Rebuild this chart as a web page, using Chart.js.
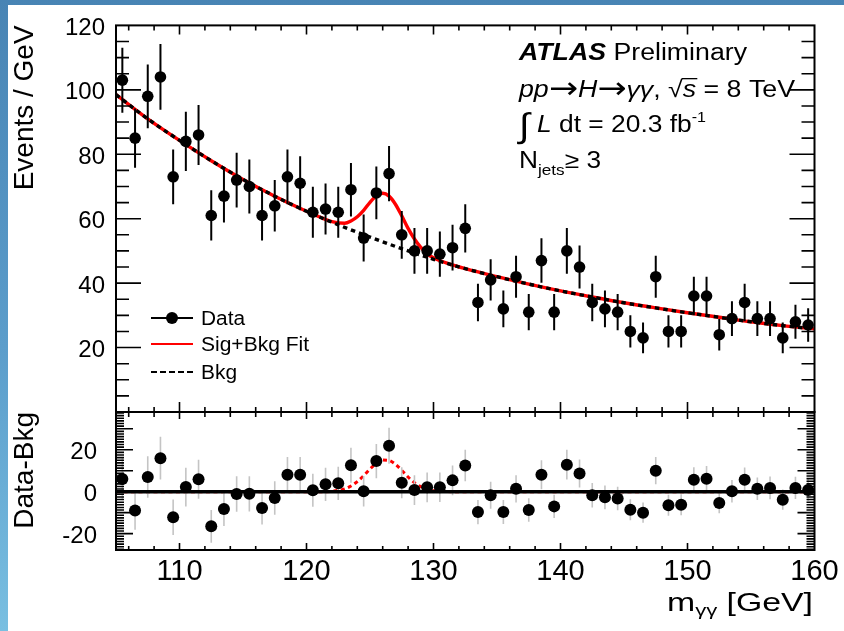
<!DOCTYPE html>
<html>
<head>
<meta charset="utf-8">
<title>H→γγ, Njets ≥ 3</title>
<script src="https://cdn.jsdelivr.net/npm/chart.js@4.4.1/dist/chart.umd.min.js"></script>
<style>
  html, body { margin: 0; padding: 0; }
  #page {
    position: relative; width: 844px; height: 631px; overflow: hidden;
    background: linear-gradient(180deg, #4884b4 0%, #5b9dcb 55%, #79bfe1 100%);
  }
  #sheet { position: absolute; left: 8px; top: 5px; right: 0; bottom: 0; background: #fff; }
  canvas { position: absolute; left: 0; top: 0; }
</style>
</head>
<body>
<div id="page">
  <div id="sheet"></div>
  <canvas id="ratio" width="844" height="631"></canvas>
  <canvas id="spectrum" width="844" height="631"></canvas>
</div>
<script>
// --- data: diphoton mass spectrum, 1 GeV bins ---
const binCenters = [
  105.5, 106.5, 107.5, 108.5, 109.5, 110.5, 111.5, 112.5, 113.5, 114.5,
  115.5, 116.5, 117.5, 118.5, 119.5, 120.5, 121.5, 122.5, 123.5, 124.5,
  125.5, 126.5, 127.5, 128.5, 129.5, 130.5, 131.5, 132.5, 133.5, 134.5,
  135.5, 136.5, 137.5, 138.5, 139.5, 140.5, 141.5, 142.5, 143.5, 144.5,
  145.5, 146.5, 147.5, 148.5, 149.5, 150.5, 151.5, 152.5, 153.5, 154.5,
  155.5, 156.5, 157.5, 158.5, 159.5
]
const eventCounts = [
  103, 85, 98, 104, 73, 84, 86, 61, 67, 72,
  70, 61, 64, 73, 71, 62, 63, 62, 69, 54,
  68, 74, 55, 50, 50, 49, 51, 57, 34, 41,
  32, 42, 31, 47, 31, 50, 45, 34, 32, 31,
  25, 23, 42, 25, 25, 36, 36, 24, 29, 34,
  29, 29, 23, 28, 27
]
const countErrors = [
  10.1, 9.2, 9.9, 10.2, 8.5, 9.2, 9.3, 7.8, 8.2, 8.5,
  8.4, 7.8, 8.0, 8.5, 8.4, 7.9, 7.9, 7.9, 8.3, 7.3,
  8.2, 8.6, 7.4, 7.1, 7.1, 7.0, 7.1, 7.5, 5.8, 6.4,
  5.7, 6.5, 5.6, 6.9, 5.6, 7.1, 6.7, 5.8, 5.7, 5.6,
  5.0, 4.8, 6.5, 5.0, 5.0, 6.0, 6.0, 4.9, 5.4, 5.8,
  5.4, 5.4, 4.8, 5.3, 5.2
]
// data minus background fit
const residuals = [
  6.0, -9.0, 7.0, 16.0, -12.2, 2.2, 5.9, -16.5, -8.2, -1.1,
  -1.0, -7.8, -3.0, 8.1, 8.1, 0.7, 3.5, 4.0, 12.6, 0.2,
  14.6, 21.9, 4.3, 0.8, 2.1, 2.1, 5.4, 12.5, -9.7, -1.7,
  -9.7, 1.4, -8.7, 8.1, -7.0, 12.9, 8.7, -1.7, -2.7, -3.2,
  -8.6, -10.0, 10.0, -6.5, -6.2, 5.7, 6.2, -5.4, 0.2, 5.7,
  1.4, 1.8, -3.8, 1.8, 0.8
]

// background-only fit
const bkgMass = [105, 107.5, 110, 112.5, 115, 117.5, 120, 122.5, 125, 127.5, 130, 132.5,
  135, 137.5, 140, 142.5, 145, 147.5, 150, 152.5, 155, 157.5, 160]
const bkgFit = [98.5, 91.0, 84.3, 78.0, 72.2, 67.0, 62.3, 58.1, 54.3, 50.7, 47.4, 44.5,
  42.0, 39.7, 37.6, 35.7, 33.9, 32.3, 30.8, 29.4, 28.0, 26.8, 25.8]

// signal + background fit
const sigBkgMass = [105, 107.5, 110, 112.5, 115, 117.5, 120, 121, 122, 123, 123.5, 124,
  124.5, 125, 125.5, 126, 126.5, 127, 127.5, 128, 128.5, 129, 129.5, 130, 131, 132.5,
  135, 137.5, 140, 142.5, 145, 147.5, 150, 152.5, 155, 157.5, 160]
const sigBkgFit = [98.5, 91.0, 84.3, 78.0, 72.2, 67.0, 62.3, 60.6, 59.1, 58.6, 59.3, 60.6,
  62.6, 65.1, 67.1, 67.9, 67.0, 64.5, 60.9, 57.0, 53.7, 51.1, 49.1, 47.9, 46.3, 44.5,
  42.0, 39.7, 37.6, 35.7, 33.9, 32.3, 30.8, 29.4, 28.0, 26.8, 25.8]

// signal component alone (lower panel)
const sigMass = [105, 120, 121, 122, 123, 123.5, 124, 124.5, 125, 125.5, 126, 126.5,
  127, 127.5, 128, 128.5, 129, 129.5, 130, 131, 132, 160]
const sigOnly = [0, 0, 0, 0.2, 1.3, 2.7, 4.8, 7.6, 10.8, 13.5, 15.1, 14.9,
  13.1, 10.2, 7.0, 4.3, 2.4, 1.1, 0.5, 0.1, 0, 0]

// background in the residual panel is flat at zero
const flatMass = [105, 160]
const flatZero = [0, 0]

// axes
const massRange = [105, 160]
const massTicks = [110, 120, 130, 140, 150, 160]
const eventsRange = [0, 120]
const eventsTicks = [20, 40, 60, 80, 100, 120]
const residRange = [-27.8, 38]
const residTicks = [-20, 0, 20]

// --- helpers ---
const FONT = '"Liberation Sans", Arial, Helvetica, sans-serif'
Chart.defaults.font.family = FONT
Chart.defaults.color = '#000'

const pts = (xs, ys) => xs.map((x, i) => ({ x, y: ys[i] }))
const bars = (xs, ys, es) => xs.map((x, i) => ({ x, y: [ys[i] - es[i], ys[i] + es[i]] }))
const rg = s => `${s}px ${FONT}`
const it = s => `italic ${s}px ${FONT}`
const arrow = { text: '→', font: '30px "DejaVu Sans", sans-serif', dy: 1 }

// draws a row of text pieces (sub/superscripts, mixed fonts), stretched to a given width
function drawRuns(ctx, x, y, runs, width) {
  let natural = 0
  for (const r of runs) { ctx.font = r.font; natural += ctx.measureText(r.text).width }
  const sx = width ? width / natural : 1
  ctx.save()
  ctx.translate(x, y)
  ctx.scale(sx, 1)
  ctx.textAlign = 'left'
  ctx.textBaseline = 'alphabetic'
  ctx.fillStyle = '#000'
  let cx = 0
  for (const r of runs) {
    ctx.font = r.font
    const w = ctx.measureText(r.text).width
    ctx.fillText(r.text, cx, r.dy || 0)
    if (r.overbar) ctx.fillRect(cx - 1, -r.overbar, w + 2, 1.3)
    cx += w
  }
  ctx.restore()
}

// ROOT-style frame with inward ticks on all four sides
const frameTicks = {
  id: 'frameTicks',
  afterDatasetsDraw(chart, args, o) {
    const { ctx, chartArea: a } = chart
    const x = chart.scales.x
    const y = chart.scales.y
    ctx.save()
    ctx.strokeStyle = '#000'
    ctx.lineWidth = 1.6
    ctx.beginPath()
    for (let v = 106; v < 160; v += 2) {
      const px = x.getPixelForValue(v)
      const major = v % 10 === 0
      const t = major ? o.xTop[0] : o.xTop[1]
      const b = major ? o.xBottom[0] : o.xBottom[1]
      ctx.moveTo(px, a.top); ctx.lineTo(px, a.top + t)
      ctx.moveTo(px, a.bottom); ctx.lineTo(px, a.bottom - b)
    }
    const n = Math.round((y.max - o.yStart) / o.yMinor)
    for (let i = 0; i <= n; i++) {
      const v = o.yStart + i * o.yMinor
      if (v <= y.min || v >= y.max) continue
      const py = y.getPixelForValue(v)
      const major = Math.abs(v / o.yMajor - Math.round(v / o.yMajor)) < 1e-6
      const len = major ? o.yLen[0] : o.yLen[1]
      ctx.moveTo(a.left, py); ctx.lineTo(a.left + len, py)
      ctx.moveTo(a.right, py); ctx.lineTo(a.right - len, py)
    }
    ctx.stroke()
    ctx.lineWidth = 2
    ctx.strokeRect(a.left, a.top, a.right - a.left, a.bottom - a.top)
    ctx.restore()
  }
}

// labels and legend of the upper panel
const spectrumText = {
  id: 'spectrumText',
  afterDraw(chart) {
    const ctx = chart.ctx
    drawRuns(ctx, 519, 60, [
      { text: 'ATLAS', font: `italic bold 23px ${FONT}` },
      { text: ' Preliminary', font: rg(23) }
    ], 228)
    drawRuns(ctx, 519, 97, [
      { text: 'pp', font: it(23) },
      arrow,
      { text: 'H', font: it(23) },
      arrow,
      { text: 'γγ', font: it(23) },
      { text: ', ', font: rg(23) },
      { text: '√', font: rg(23) },
      { text: 's', font: it(23), overbar: 19 },
      { text: ' = 8 TeV', font: rg(23) }
    ], 276)
    drawRuns(ctx, 519, 132, [
      { text: '∫', font: rg(34), dy: 5 },
      { text: ' ', font: rg(23) },
      { text: 'L', font: it(23) },
      { text: ' dt = 20.3 fb', font: rg(23) },
      { text: '-1', font: rg(14), dy: -10 }
    ], 187)
    drawRuns(ctx, 519, 168, [
      { text: 'N', font: rg(23) },
      { text: 'jets', font: rg(15), dy: 7 },
      { text: '≥ 3', font: rg(23) }
    ], 82)

    // legend
    ctx.save()
    ctx.lineWidth = 2
    ctx.strokeStyle = '#000'
    ctx.beginPath(); ctx.moveTo(151, 318); ctx.lineTo(193, 318); ctx.stroke()
    ctx.fillStyle = '#000'
    ctx.beginPath(); ctx.arc(172, 318, 6, 0, Math.PI * 2); ctx.fill()
    ctx.strokeStyle = '#ff0000'
    ctx.beginPath(); ctx.moveTo(151, 344); ctx.lineTo(193, 344); ctx.stroke()
    ctx.strokeStyle = '#000'
    ctx.setLineDash([6, 3])
    ctx.beginPath(); ctx.moveTo(151, 372); ctx.lineTo(193, 372); ctx.stroke()
    ctx.restore()
    drawRuns(ctx, 201, 325, [{ text: 'Data', font: rg(20) }], 44)
    drawRuns(ctx, 201, 351, [{ text: 'Sig+Bkg Fit', font: rg(20) }], 108)
    drawRuns(ctx, 201, 379, [{ text: 'Bkg', font: rg(20) }], 36)
  }
}

const ratioText = {
  id: 'ratioText',
  afterDraw(chart) {
    drawRuns(chart.ctx, 667, 611, [
      { text: 'm', font: rg(26) },
      { text: 'γγ', font: rg(17), dy: 5 },
      { text: ' [GeV]', font: rg(26) }
    ], 146)
  }
}

const massAxis = {
  type: 'linear', min: massRange[0], max: massRange[1], offset: false,
  grid: { display: false, drawTicks: false }, border: { display: false }
}
const common = {
  responsive: false, animation: false, events: [], devicePixelRatio: 1,
  plugins: { legend: { display: false }, tooltip: { enabled: false } }
}

// --- upper panel: events per GeV ---
new Chart(document.getElementById('spectrum'), {
  type: 'scatter',
  data: {
    datasets: [
      {
        type: 'line', label: 'Sig+Bkg Fit', data: pts(sigBkgMass, sigBkgFit),
        borderColor: '#ff0000', borderWidth: 3.4, pointRadius: 0,
        cubicInterpolationMode: 'monotone', fill: false, order: 4
      },
      {
        type: 'line', label: 'Bkg', data: pts(bkgMass, bkgFit),
        borderColor: '#000', borderWidth: 3.4, borderDash: [4.5, 4], pointRadius: 0,
        cubicInterpolationMode: 'monotone', fill: false, order: 3
      },
      {
        type: 'bar', label: 'stat. error', data: bars(binCenters, eventCounts, countErrors),
        backgroundColor: '#000', borderWidth: 0, barThickness: 2, grouped: false,
        inflateAmount: 0, order: 2
      },
      {
        type: 'scatter', label: 'Data', data: pts(binCenters, eventCounts),
        backgroundColor: '#000', borderWidth: 0, pointRadius: 5.8, order: 1
      }
    ]
  },
  options: {
    ...common,
    layout: { padding: { left: 0, right: 29.5, top: 19, bottom: 219 } },
    scales: {
      x: { ...massAxis, display: false },
      y: {
        min: eventsRange[0], max: eventsRange[1],
        afterBuildTicks: s => { s.ticks = eventsTicks.map(v => ({ value: v })) },
        afterFit: s => { s.width = 116 },
        grid: { display: false, drawTicks: false }, border: { display: false },
        ticks: { font: { size: 24 }, color: '#000', padding: 11, labelOffset: 3 },
        title: {
          display: true, text: 'Events / GeV', align: 'end', color: '#000',
          font: { size: 28 }, padding: { top: 8, bottom: 0 }
        }
      }
    },
    plugins: {
      ...common.plugins,
      frameTicks: { xTop: [9, 5], xBottom: [10, 5], yStart: 5, yMinor: 5, yMajor: 20, yLen: [25, 13] }
    }
  },
  plugins: [frameTicks, spectrumText]
})

// --- lower panel: data minus background ---
new Chart(document.getElementById('ratio'), {
  type: 'scatter',
  data: {
    datasets: [
      {
        type: 'line', label: 'Signal', data: pts(sigMass, sigOnly),
        borderColor: '#ff0000', borderWidth: 3, borderDash: [4, 3.5], pointRadius: 0,
        cubicInterpolationMode: 'monotone', fill: false, order: 4
      },
      {
        type: 'bar', label: 'stat. error', data: bars(binCenters, residuals, countErrors),
        backgroundColor: '#c4c4c4', borderWidth: 0, barThickness: 1.6, grouped: false,
        inflateAmount: 0, order: 3
      },
      {
        type: 'line', label: 'Bkg', data: pts(flatMass, flatZero),
        borderColor: '#000', borderWidth: 3.4, pointRadius: 0, fill: false, order: 2
      },
      {
        type: 'scatter', label: 'Data-Bkg', data: pts(binCenters, residuals),
        backgroundColor: '#000', borderWidth: 0, pointRadius: 6, order: 1
      }
    ]
  },
  options: {
    ...common,
    layout: { padding: { left: 0, right: 29.5, top: 412, bottom: 0 } },
    scales: {
      x: {
        ...massAxis,
        afterBuildTicks: s => { s.ticks = massTicks.map(v => ({ value: v })) },
        afterFit: s => { s.height = 81 },
        ticks: { font: { size: 29 }, color: '#000', padding: 5, autoSkip: false, maxRotation: 0, minRotation: 0 }
      },
      y: {
        min: residRange[0], max: residRange[1],
        afterBuildTicks: s => { s.ticks = residTicks.map(v => ({ value: v })) },
        afterFit: s => { s.width = 116 },
        grid: { display: false, drawTicks: false }, border: { display: false },
        ticks: { font: { size: 24 }, color: '#000', padding: 19, labelOffset: 3 },
        title: {
          display: true, text: 'Data-Bkg', align: 'end', color: '#000',
          font: { size: 28 }, padding: { top: 8, bottom: 0 }
        }
      }
    },
    plugins: {
      ...common.plugins,
      frameTicks: { xTop: [7, 5], xBottom: [7, 4], yStart: -27.5, yMinor: 1.25, yMajor: 10, yLen: [17, 8] }
    }
  },
  plugins: [frameTicks, ratioText]
})
</script>
</body>
</html>
